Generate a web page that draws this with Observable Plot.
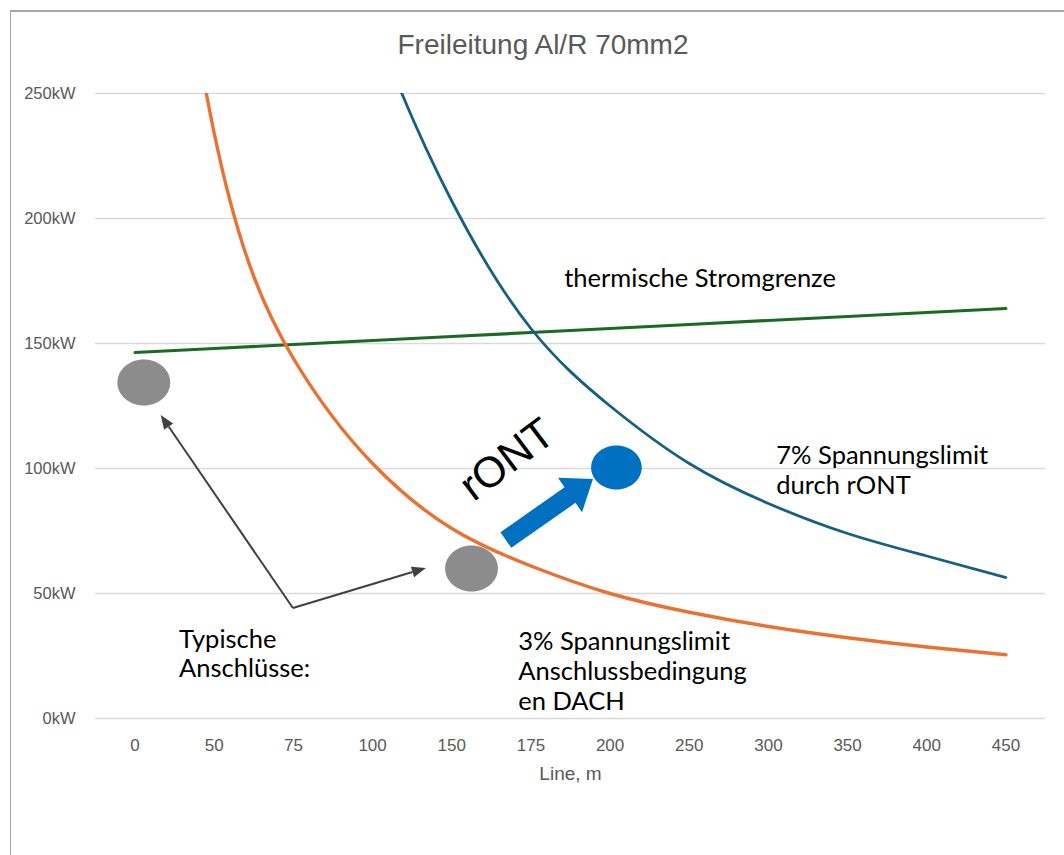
<!DOCTYPE html>
<html>
<head>
<meta charset="utf-8">
<script src="https://cdn.jsdelivr.net/npm/d3@7"></script>
<script src="https://cdn.jsdelivr.net/npm/@observablehq/plot@0.6"></script>
<style>
  html, body { margin: 0; padding: 0; background: #fff; width: 1064px; height: 855px; overflow: hidden; }
  #box { position: absolute; left: 10px; top: 10px; width: 1200px; height: 1000px;
         border-top: 2px solid #a6a6a6; border-left: 1px solid #a6a6a6; box-sizing: border-box; }
  #title { position: absolute; left: 0; top: 31px; width: 1086px; text-align: center;
           font: 28px "Liberation Sans", Arial, sans-serif; line-height: 28px; color: #595959; }
  #chart { position: absolute; left: 0; top: 0; }
</style>
</head>
<body>
<div id="box"></div>
<div id="title">Freileitung Al/R 70mm2</div>
<div id="chart"></div>
<script>
// Line length categories (m) and the power limits per category (kW)
const lengths = ["0", "50", "75", "100", "150", "175", "200", "250", "300", "350", "400", "450"];
const limit3 = [442, 234, 144, 102, 76, 61, 50, 42.5, 36.8, 32.3, 28.6, 25.5];   // 3% Spannungslimit
const limit7 = [745, 533, 384, 280, 207, 156, 125, 102, 86, 74, 65, 56.4];       // 7% Spannungslimit mit rONT
const thermal = [146.4, 148, 149.6, 151.2, 152.8, 154.4, 156, 157.6, 159.2, 160.8, 162.4, 164]; // thermische Grenze
const yTicks = [0, 50, 100, 150, 200, 250];

// Typical connections (category position, kW)
const typical = [{i: 0.11, kw: 134.4}, {i: 4.25, kw: 60}];
const boosted = [{i: 6.08, kw: 100.4}];

// Callout arrows from the label to the typical connections
const calloutFrom = {i: 2.0, kw: 44};
const calloutTo = [{i: 0.33, kw: 121.2}, {i: 3.68, kw: 60}];
// rONT shift arrow
const shiftFrom = {i: 4.69, kw: 71.2};
const shiftTo = {i: 5.79, kw: 95.6};

// Annotation labels
const labels = [
  {i: 5.42, kw: 176.4, text: "thermische Stromgrenze"},
  {i: 8.10, kw: 99.6, text: "7% Spannungslimit\ndurch rONT"},
  {i: 4.84, kw: 19.2, text: "3% Spannungslimit\nAnschlussbedingung\nen DACH"},
  {i: 0.556, kw: 26.2, text: "Typische\nAnschlüsse:"}
];
const rontLabel = [{i: 4.70, kw: 103.5, text: "rONT"}];

const series = (vals) => vals.map((v, i) => ({i, v}));

// Ellipse symbol for the connection markers
const ellipse = {
  draw(ctx, size) {
    const ry = Math.sqrt(size / Math.PI), rx = ry * 1.15, k = 0.5523;
    ctx.moveTo(rx, 0);
    ctx.bezierCurveTo(rx, ry * k, rx * k, ry, 0, ry);
    ctx.bezierCurveTo(-rx * k, ry, -rx, ry * k, -rx, 0);
    ctx.bezierCurveTo(-rx, -ry * k, -rx * k, -ry, 0, -ry);
    ctx.bezierCurveTo(rx * k, -ry, rx, -ry * k, rx, 0);
    ctx.closePath();
  }
};

// Thin callout arrows with filled heads
function callouts(index, {x, y}) {
  const g = d3.create("svg:g");
  const x0 = x(calloutFrom.i), y0 = y(calloutFrom.kw);
  for (const t of calloutTo) {
    const x1 = x(t.i), y1 = y(t.kw);
    const dx = x1 - x0, dy = y1 - y0, L = Math.hypot(dx, dy);
    const ux = dx / L, uy = dy / L, nx = -uy, ny = ux;
    const hl = 14, hw = 5.5;
    const bx = x1 - ux * hl, by = y1 - uy * hl;
    g.append("line").attr("x1", x0).attr("y1", y0).attr("x2", bx).attr("y2", by)
      .attr("stroke", "#404040").attr("stroke-width", 2);
    g.append("path").attr("d", `M${x1},${y1}L${bx + nx * hw},${by + ny * hw}L${bx - nx * hw},${by - ny * hw}Z`)
      .attr("fill", "#404040");
  }
  return g.node();
}

// Thick block arrow for the rONT shift
function shiftArrow(index, {x, y}) {
  const x0 = x(shiftFrom.i), y0 = y(shiftFrom.kw), x1 = x(shiftTo.i), y1 = y(shiftTo.kw);
  const dx = x1 - x0, dy = y1 - y0, L = Math.hypot(dx, dy);
  const ux = dx / L, uy = dy / L, nx = -uy, ny = ux;
  const w = 9.5, hw = 21, hl = 28;
  const bx = x1 - ux * hl, by = y1 - uy * hl;
  const pts = [
    [x0 + nx * w, y0 + ny * w], [bx + nx * w, by + ny * w], [bx + nx * hw, by + ny * hw],
    [x1, y1], [bx - nx * hw, by - ny * hw], [bx - nx * w, by - ny * w], [x0 - nx * w, y0 - ny * w]
  ];
  return d3.create("svg:path").attr("d", "M" + pts.map(p => p.join(",")).join("L") + "Z")
    .attr("fill", "#0070c0").node();
}

const chart = Plot.plot({
  width: 1064,
  height: 855,
  marginTop: 93,
  marginBottom: 137,
  marginLeft: 95,
  marginRight: 19,
  style: {fontFamily: "'Liberation Sans', Arial, sans-serif", color: "#595959", background: "transparent"},
  x: {domain: [-0.5, 11.5]},
  y: {domain: [0, 250]},
  marks: [
    Plot.gridY(yTicks, {stroke: "#d9d9d9", strokeOpacity: 1, strokeWidth: 1.3}),
    Plot.axisY(yTicks, {tickSize: 0, tickPadding: 20, fontSize: 16.5, tickFormat: d => d + "kW", label: null}),
    Plot.axisX(d3.range(lengths.length), {tickSize: 0, tickPadding: 20, fontSize: 17, tickFormat: i => lengths[i], label: null}),
    Plot.text(["Line, m"], {frameAnchor: "bottom", dy: 61, text: d => d, fontSize: 19, fill: "#595959"}),
    Plot.line(series(thermal), {x: "i", y: "v", stroke: "#196b24", strokeWidth: 3.2, clip: true}),
    Plot.line(series(limit7), {x: "i", y: "v", stroke: "#156082", strokeWidth: 2.8, curve: "natural", clip: true}),
    Plot.line(series(limit3), {x: "i", y: "v", stroke: "#e97132", strokeWidth: 3.4, curve: "natural", clip: true}),
    Plot.dot(typical, {x: "i", y: "kw", r: 23, symbol: ellipse, fill: "#8c8c8c", stroke: null}),
    Plot.dot(boosted, {x: "i", y: "kw", r: 22, symbol: ellipse, fill: "#0070c0", stroke: null}),
    callouts,
    shiftArrow,
    Plot.text(labels, {x: "i", y: "kw", text: "text", textAnchor: "start", lineAnchor: "middle", lineHeight: 1.17,
      fontSize: 25.5, fontFamily: "Lato, sans-serif", fill: "#000"}),
    Plot.text(rontLabel, {x: "i", y: "kw", text: "text", rotate: -37, fontSize: 43,
      fontFamily: "'Liberation Sans', Arial, sans-serif", fill: "#000"})
  ]
});
document.getElementById("chart").append(chart);
</script>
</body>
</html>
